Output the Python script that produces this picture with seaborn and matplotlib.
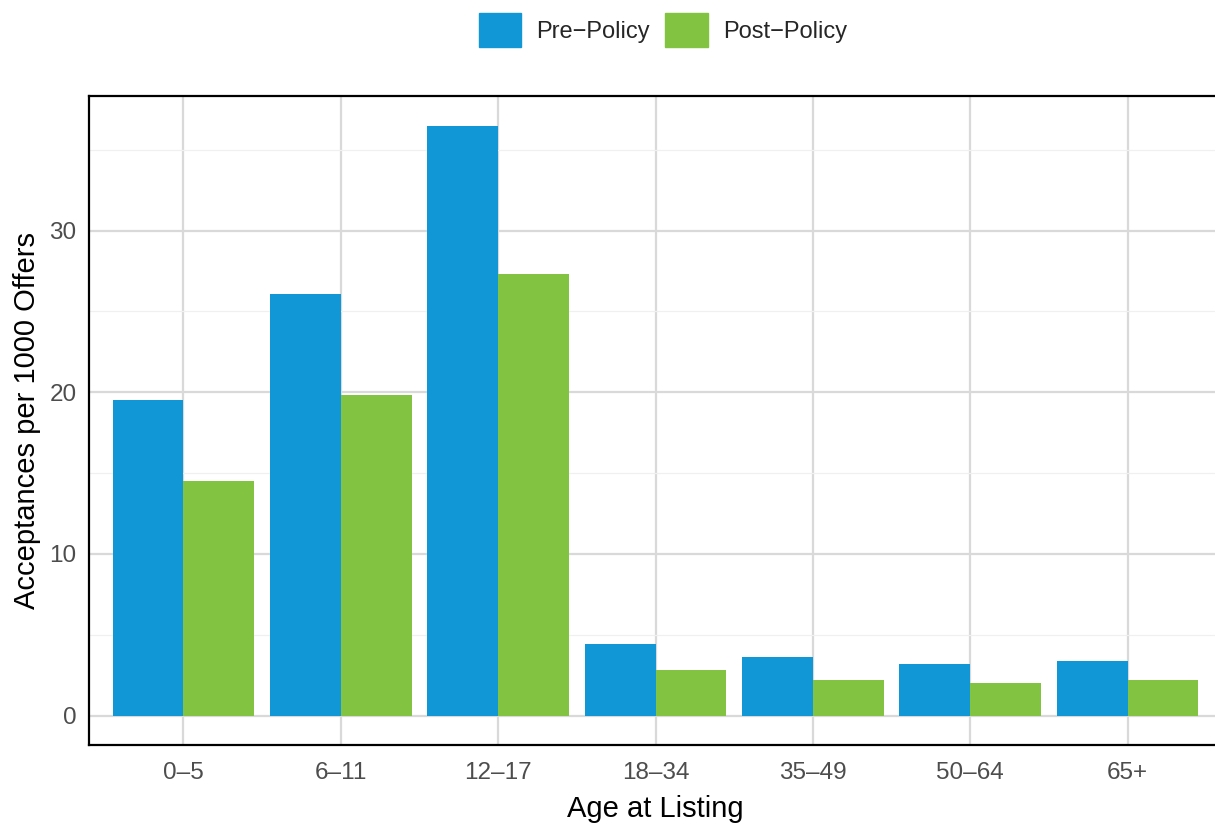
import pandas as pd
import seaborn as sns
import matplotlib.pyplot as plt
from matplotlib.ticker import MultipleLocator

# data
age_groups = ["0–5", "6–11", "12–17", "18–34", "35–49", "50–64", "65+"]
pre_policy = [19.5, 26.1, 36.5, 4.4, 3.6, 3.2, 3.4]
post_policy = [14.5, 19.8, 27.3, 2.8, 2.2, 2.0, 2.2]
period_names = ["Pre\u2212Policy", "Post\u2212Policy"]
colors = ["#1197D6", "#82C341"]

df = pd.DataFrame({
    "age": age_groups * 2,
    "rate": pre_policy + post_policy,
    "period": [period_names[0]] * len(age_groups) + [period_names[1]] * len(age_groups),
})

sns.set_style("white")
plt.rcParams["font.family"] = ["Liberation Sans", "DejaVu Sans"]

fig = plt.figure(figsize=(12.15, 8.24), dpi=100)
ax = fig.add_axes([89 / 1215, 1 - 745 / 824, (1222 - 89) / 1215, (745 - 96) / 824])

sns.barplot(data=df, x="age", y="rate", hue="period", palette=colors,
            width=0.9, gap=0, saturation=1, ax=ax, legend=False,
            linewidth=0, edgecolor="none", zorder=3)

ax.set_xlim(-0.6, len(age_groups) - 0.4)
ax.set_ylim(-1.825, 38.325)
ax.yaxis.set_major_locator(MultipleLocator(10))
ax.yaxis.set_minor_locator(MultipleLocator(5))

ax.grid(which="major", color="#D9D9D9", linewidth=1.6, zorder=0)
ax.grid(which="minor", axis="y", color="#F0F0F0", linewidth=0.9, zorder=0)
ax.set_axisbelow(True)

for s in ax.spines.values():
    s.set_color("black")
    s.set_linewidth(1.6)

ax.tick_params(axis="both", which="major", length=5, width=1.4, color="#333333",
               labelsize=17.5, labelcolor="#4D4D4D", pad=4)
ax.tick_params(axis="x", which="major", pad=7)
ax.tick_params(axis="both", which="minor", length=0)

ax.set_xlabel("Age at Listing", fontsize=21, color="black", labelpad=8)
ax.set_ylabel("Acceptances per 1000 Offers", fontsize=21, color="black", labelpad=6)

handles = [plt.Rectangle((0, 0), 1, 1, color=c) for c in colors]
fig.legend(handles, period_names, loc="center", bbox_to_anchor=(663 / 1215, 1 - 30 / 824),
           ncol=2, frameon=False, fontsize=17, handlelength=1.8, handleheight=1.8,
           handletextpad=0.65, columnspacing=0.65)

fig.savefig("out.png", dpi=100)
